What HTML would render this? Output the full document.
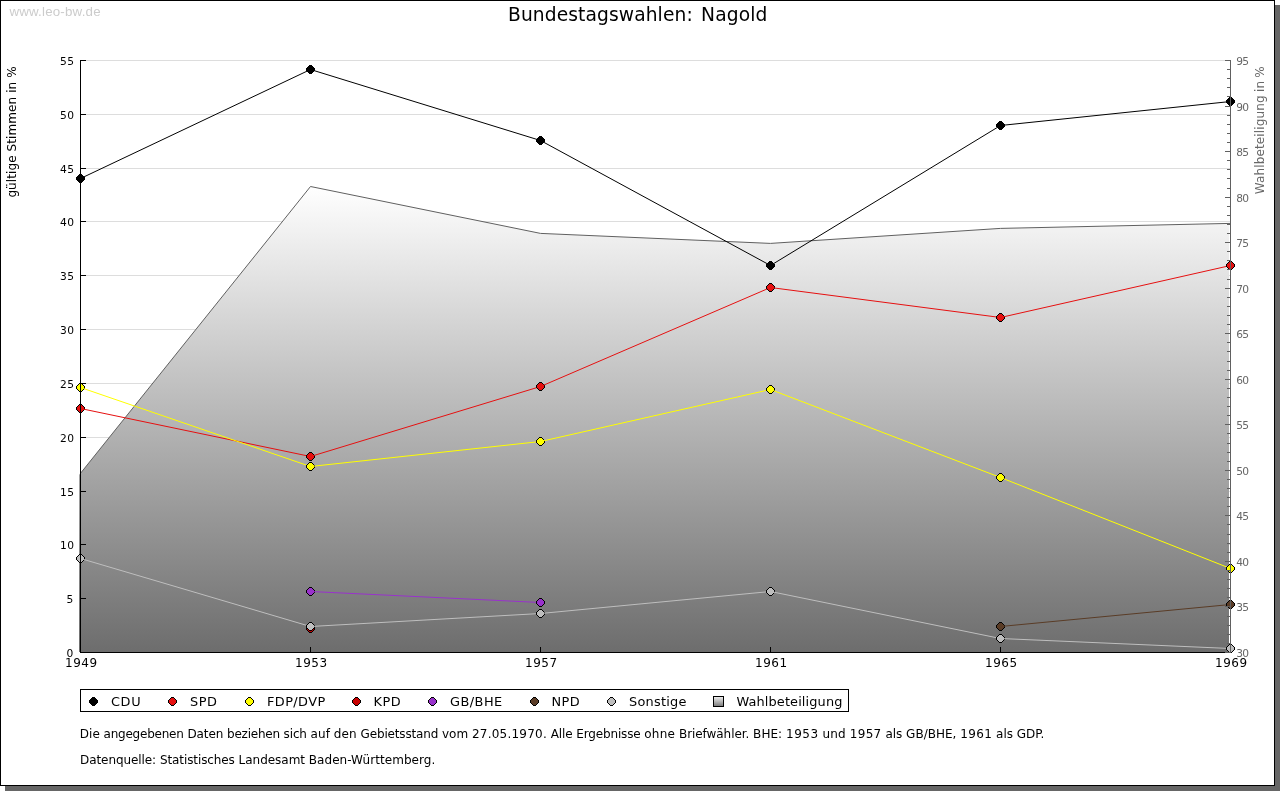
<!DOCTYPE html>
<html lang="de"><head><meta charset="utf-8"><title>Bundestagswahlen: Nagold</title>
<style>html,body{margin:0;padding:0;background:#fff;}body{width:1280px;height:791px;overflow:hidden;}svg{display:block;}text{font-family:"DejaVu Sans","Liberation Sans",sans-serif;}</style>
</head><body>
<svg width="1280" height="791" viewBox="0 0 1280 791">
<defs><linearGradient id="ag" gradientUnits="userSpaceOnUse" x1="0" y1="186" x2="0" y2="652"><stop offset="0" stop-color="#ffffff"/><stop offset="1" stop-color="#6d6d6d"/></linearGradient>
<linearGradient id="lg" x1="0" y1="0" x2="0" y2="1"><stop offset="0" stop-color="#f4f4f4"/><stop offset="1" stop-color="#777777"/></linearGradient></defs>
<rect x="0" y="0" width="1280" height="791" fill="#fff"/>
<g shape-rendering="crispEdges">
<rect x="1275" y="5" width="5" height="786" fill="#666"/>
<rect x="5" y="786" width="1275" height="5" fill="#666"/>
<rect x="0.5" y="0.5" width="1274" height="785" fill="#fff" stroke="#000" stroke-width="1"/>
</g>
<text x="9.4" y="16" font-size="13.33" textLength="91.2" style="font-family:'Liberation Sans',sans-serif" fill="#cccccc">www.leo-bw.de</text>
<text x="508" y="20.5" font-size="18.67" style="letter-spacing:0.1px;word-spacing:2.3px" fill="#000">Bundestagswahlen: Nagold</text>
<g shape-rendering="crispEdges" fill="#dddddd">
<rect x="81" y="652" width="1149" height="1"/>
<rect x="81" y="598" width="1149" height="1"/>
<rect x="81" y="544" width="1149" height="1"/>
<rect x="81" y="491" width="1149" height="1"/>
<rect x="81" y="437" width="1149" height="1"/>
<rect x="81" y="383" width="1149" height="1"/>
<rect x="81" y="329" width="1149" height="1"/>
<rect x="81" y="275" width="1149" height="1"/>
<rect x="81" y="221" width="1149" height="1"/>
<rect x="81" y="168" width="1149" height="1"/>
<rect x="81" y="114" width="1149" height="1"/>
<rect x="81" y="60" width="1149" height="1"/>
</g>
<polygon points="79,652 79,474.8 80.5,473.3 310.5,186.5 540.5,233.4 770.5,243.4 1000.5,228.4 1229,223.41 1229,652" fill="url(#ag)"/>
<polyline points="80.5,473.3 310.5,186.5 540.5,233.4 770.5,243.4 1000.5,228.4 1230.5,223.4" fill="none" stroke="#606060" stroke-width="1"/>
<g transform="translate(76,174)" shape-rendering="crispEdges"><path d="M3 1h3v1h-3zM2 2h5v1h-5zM1 3h7v3h-7zM2 6h5v1h-5zM3 7h3v1h-3z" fill="#000000"/><path d="M3 0h3v1h-3zM2 1h1v1h-1zM6 1h1v1h-1zM1 2h1v1h-1zM7 2h1v1h-1zM0 3h1v3h-1zM8 3h1v3h-1zM1 6h1v1h-1zM7 6h1v1h-1zM2 7h1v1h-1zM6 7h1v1h-1zM3 8h3v1h-3z" fill="#000"/></g>
<line x1="80.5" y1="178.5" x2="310.5" y2="69.5" stroke="#000000" stroke-width="1"/>
<g transform="translate(306,65)" shape-rendering="crispEdges"><path d="M3 1h3v1h-3zM2 2h5v1h-5zM1 3h7v3h-7zM2 6h5v1h-5zM3 7h3v1h-3z" fill="#000000"/><path d="M3 0h3v1h-3zM2 1h1v1h-1zM6 1h1v1h-1zM1 2h1v1h-1zM7 2h1v1h-1zM0 3h1v3h-1zM8 3h1v3h-1zM1 6h1v1h-1zM7 6h1v1h-1zM2 7h1v1h-1zM6 7h1v1h-1zM3 8h3v1h-3z" fill="#000"/></g>
<line x1="310.5" y1="69.5" x2="540.5" y2="140.5" stroke="#000000" stroke-width="1"/>
<g transform="translate(536,136)" shape-rendering="crispEdges"><path d="M3 1h3v1h-3zM2 2h5v1h-5zM1 3h7v3h-7zM2 6h5v1h-5zM3 7h3v1h-3z" fill="#000000"/><path d="M3 0h3v1h-3zM2 1h1v1h-1zM6 1h1v1h-1zM1 2h1v1h-1zM7 2h1v1h-1zM0 3h1v3h-1zM8 3h1v3h-1zM1 6h1v1h-1zM7 6h1v1h-1zM2 7h1v1h-1zM6 7h1v1h-1zM3 8h3v1h-3z" fill="#000"/></g>
<line x1="540.5" y1="140.5" x2="770.5" y2="265.5" stroke="#000000" stroke-width="1"/>
<g transform="translate(766,261)" shape-rendering="crispEdges"><path d="M3 1h3v1h-3zM2 2h5v1h-5zM1 3h7v3h-7zM2 6h5v1h-5zM3 7h3v1h-3z" fill="#000000"/><path d="M3 0h3v1h-3zM2 1h1v1h-1zM6 1h1v1h-1zM1 2h1v1h-1zM7 2h1v1h-1zM0 3h1v3h-1zM8 3h1v3h-1zM1 6h1v1h-1zM7 6h1v1h-1zM2 7h1v1h-1zM6 7h1v1h-1zM3 8h3v1h-3z" fill="#000"/></g>
<line x1="770.5" y1="265.5" x2="1000.5" y2="125.5" stroke="#000000" stroke-width="1"/>
<g transform="translate(996,121)" shape-rendering="crispEdges"><path d="M3 1h3v1h-3zM2 2h5v1h-5zM1 3h7v3h-7zM2 6h5v1h-5zM3 7h3v1h-3z" fill="#000000"/><path d="M3 0h3v1h-3zM2 1h1v1h-1zM6 1h1v1h-1zM1 2h1v1h-1zM7 2h1v1h-1zM0 3h1v3h-1zM8 3h1v3h-1zM1 6h1v1h-1zM7 6h1v1h-1zM2 7h1v1h-1zM6 7h1v1h-1zM3 8h3v1h-3z" fill="#000"/></g>
<line x1="1000.5" y1="125.5" x2="1230.5" y2="101.5" stroke="#000000" stroke-width="1"/>
<g transform="translate(1226,97)" shape-rendering="crispEdges"><path d="M3 1h3v1h-3zM2 2h5v1h-5zM1 3h7v3h-7zM2 6h5v1h-5zM3 7h3v1h-3z" fill="#000000"/><path d="M3 0h3v1h-3zM2 1h1v1h-1zM6 1h1v1h-1zM1 2h1v1h-1zM7 2h1v1h-1zM0 3h1v3h-1zM8 3h1v3h-1zM1 6h1v1h-1zM7 6h1v1h-1zM2 7h1v1h-1zM6 7h1v1h-1zM3 8h3v1h-3z" fill="#000"/></g>
<g transform="translate(76,404)" shape-rendering="crispEdges"><path d="M3 1h3v1h-3zM2 2h5v1h-5zM1 3h7v3h-7zM2 6h5v1h-5zM3 7h3v1h-3z" fill="#e61010"/><path d="M3 0h3v1h-3zM2 1h1v1h-1zM6 1h1v1h-1zM1 2h1v1h-1zM7 2h1v1h-1zM0 3h1v3h-1zM8 3h1v3h-1zM1 6h1v1h-1zM7 6h1v1h-1zM2 7h1v1h-1zM6 7h1v1h-1zM3 8h3v1h-3z" fill="#000"/></g>
<line x1="80.5" y1="408.5" x2="310.5" y2="456.5" stroke="#e61010" stroke-width="1"/>
<g transform="translate(306,452)" shape-rendering="crispEdges"><path d="M3 1h3v1h-3zM2 2h5v1h-5zM1 3h7v3h-7zM2 6h5v1h-5zM3 7h3v1h-3z" fill="#e61010"/><path d="M3 0h3v1h-3zM2 1h1v1h-1zM6 1h1v1h-1zM1 2h1v1h-1zM7 2h1v1h-1zM0 3h1v3h-1zM8 3h1v3h-1zM1 6h1v1h-1zM7 6h1v1h-1zM2 7h1v1h-1zM6 7h1v1h-1zM3 8h3v1h-3z" fill="#000"/></g>
<line x1="310.5" y1="456.5" x2="540.5" y2="386.5" stroke="#e61010" stroke-width="1"/>
<g transform="translate(536,382)" shape-rendering="crispEdges"><path d="M3 1h3v1h-3zM2 2h5v1h-5zM1 3h7v3h-7zM2 6h5v1h-5zM3 7h3v1h-3z" fill="#e61010"/><path d="M3 0h3v1h-3zM2 1h1v1h-1zM6 1h1v1h-1zM1 2h1v1h-1zM7 2h1v1h-1zM0 3h1v3h-1zM8 3h1v3h-1zM1 6h1v1h-1zM7 6h1v1h-1zM2 7h1v1h-1zM6 7h1v1h-1zM3 8h3v1h-3z" fill="#000"/></g>
<line x1="540.5" y1="386.5" x2="770.5" y2="287.5" stroke="#e61010" stroke-width="1"/>
<g transform="translate(766,283)" shape-rendering="crispEdges"><path d="M3 1h3v1h-3zM2 2h5v1h-5zM1 3h7v3h-7zM2 6h5v1h-5zM3 7h3v1h-3z" fill="#e61010"/><path d="M3 0h3v1h-3zM2 1h1v1h-1zM6 1h1v1h-1zM1 2h1v1h-1zM7 2h1v1h-1zM0 3h1v3h-1zM8 3h1v3h-1zM1 6h1v1h-1zM7 6h1v1h-1zM2 7h1v1h-1zM6 7h1v1h-1zM3 8h3v1h-3z" fill="#000"/></g>
<line x1="770.5" y1="287.5" x2="1000.5" y2="317.5" stroke="#e61010" stroke-width="1"/>
<g transform="translate(996,313)" shape-rendering="crispEdges"><path d="M3 1h3v1h-3zM2 2h5v1h-5zM1 3h7v3h-7zM2 6h5v1h-5zM3 7h3v1h-3z" fill="#e61010"/><path d="M3 0h3v1h-3zM2 1h1v1h-1zM6 1h1v1h-1zM1 2h1v1h-1zM7 2h1v1h-1zM0 3h1v3h-1zM8 3h1v3h-1zM1 6h1v1h-1zM7 6h1v1h-1zM2 7h1v1h-1zM6 7h1v1h-1zM3 8h3v1h-3z" fill="#000"/></g>
<line x1="1000.5" y1="317.5" x2="1230.5" y2="265.5" stroke="#e61010" stroke-width="1"/>
<g transform="translate(1226,261)" shape-rendering="crispEdges"><path d="M3 1h3v1h-3zM2 2h5v1h-5zM1 3h7v3h-7zM2 6h5v1h-5zM3 7h3v1h-3z" fill="#e61010"/><path d="M3 0h3v1h-3zM2 1h1v1h-1zM6 1h1v1h-1zM1 2h1v1h-1zM7 2h1v1h-1zM0 3h1v3h-1zM8 3h1v3h-1zM1 6h1v1h-1zM7 6h1v1h-1zM2 7h1v1h-1zM6 7h1v1h-1zM3 8h3v1h-3z" fill="#000"/></g>
<g transform="translate(76,383)" shape-rendering="crispEdges"><path d="M3 1h3v1h-3zM2 2h5v1h-5zM1 3h7v3h-7zM2 6h5v1h-5zM3 7h3v1h-3z" fill="#ffff00"/><path d="M3 0h3v1h-3zM2 1h1v1h-1zM6 1h1v1h-1zM1 2h1v1h-1zM7 2h1v1h-1zM0 3h1v3h-1zM8 3h1v3h-1zM1 6h1v1h-1zM7 6h1v1h-1zM2 7h1v1h-1zM6 7h1v1h-1zM3 8h3v1h-3z" fill="#000"/></g>
<line x1="80.5" y1="387.5" x2="310.5" y2="466.5" stroke="#ffff00" stroke-width="1"/>
<g transform="translate(306,462)" shape-rendering="crispEdges"><path d="M3 1h3v1h-3zM2 2h5v1h-5zM1 3h7v3h-7zM2 6h5v1h-5zM3 7h3v1h-3z" fill="#ffff00"/><path d="M3 0h3v1h-3zM2 1h1v1h-1zM6 1h1v1h-1zM1 2h1v1h-1zM7 2h1v1h-1zM0 3h1v3h-1zM8 3h1v3h-1zM1 6h1v1h-1zM7 6h1v1h-1zM2 7h1v1h-1zM6 7h1v1h-1zM3 8h3v1h-3z" fill="#000"/></g>
<line x1="310.5" y1="466.5" x2="540.5" y2="441.5" stroke="#ffff00" stroke-width="1"/>
<g transform="translate(536,437)" shape-rendering="crispEdges"><path d="M3 1h3v1h-3zM2 2h5v1h-5zM1 3h7v3h-7zM2 6h5v1h-5zM3 7h3v1h-3z" fill="#ffff00"/><path d="M3 0h3v1h-3zM2 1h1v1h-1zM6 1h1v1h-1zM1 2h1v1h-1zM7 2h1v1h-1zM0 3h1v3h-1zM8 3h1v3h-1zM1 6h1v1h-1zM7 6h1v1h-1zM2 7h1v1h-1zM6 7h1v1h-1zM3 8h3v1h-3z" fill="#000"/></g>
<line x1="540.5" y1="441.5" x2="770.5" y2="389.5" stroke="#ffff00" stroke-width="1"/>
<g transform="translate(766,385)" shape-rendering="crispEdges"><path d="M3 1h3v1h-3zM2 2h5v1h-5zM1 3h7v3h-7zM2 6h5v1h-5zM3 7h3v1h-3z" fill="#ffff00"/><path d="M3 0h3v1h-3zM2 1h1v1h-1zM6 1h1v1h-1zM1 2h1v1h-1zM7 2h1v1h-1zM0 3h1v3h-1zM8 3h1v3h-1zM1 6h1v1h-1zM7 6h1v1h-1zM2 7h1v1h-1zM6 7h1v1h-1zM3 8h3v1h-3z" fill="#000"/></g>
<line x1="770.5" y1="389.5" x2="1000.5" y2="477.5" stroke="#ffff00" stroke-width="1"/>
<g transform="translate(996,473)" shape-rendering="crispEdges"><path d="M3 1h3v1h-3zM2 2h5v1h-5zM1 3h7v3h-7zM2 6h5v1h-5zM3 7h3v1h-3z" fill="#ffff00"/><path d="M3 0h3v1h-3zM2 1h1v1h-1zM6 1h1v1h-1zM1 2h1v1h-1zM7 2h1v1h-1zM0 3h1v3h-1zM8 3h1v3h-1zM1 6h1v1h-1zM7 6h1v1h-1zM2 7h1v1h-1zM6 7h1v1h-1zM3 8h3v1h-3z" fill="#000"/></g>
<line x1="1000.5" y1="477.5" x2="1230.5" y2="568.5" stroke="#ffff00" stroke-width="1"/>
<g transform="translate(1226,564)" shape-rendering="crispEdges"><path d="M3 1h3v1h-3zM2 2h5v1h-5zM1 3h7v3h-7zM2 6h5v1h-5zM3 7h3v1h-3z" fill="#ffff00"/><path d="M3 0h3v1h-3zM2 1h1v1h-1zM6 1h1v1h-1zM1 2h1v1h-1zM7 2h1v1h-1zM0 3h1v3h-1zM8 3h1v3h-1zM1 6h1v1h-1zM7 6h1v1h-1zM2 7h1v1h-1zM6 7h1v1h-1zM3 8h3v1h-3z" fill="#000"/></g>
<g transform="translate(306,624)" shape-rendering="crispEdges"><path d="M3 1h3v1h-3zM2 2h5v1h-5zM1 3h7v3h-7zM2 6h5v1h-5zM3 7h3v1h-3z" fill="#c80000"/><path d="M3 0h3v1h-3zM2 1h1v1h-1zM6 1h1v1h-1zM1 2h1v1h-1zM7 2h1v1h-1zM0 3h1v3h-1zM8 3h1v3h-1zM1 6h1v1h-1zM7 6h1v1h-1zM2 7h1v1h-1zM6 7h1v1h-1zM3 8h3v1h-3z" fill="#000"/></g>
<g transform="translate(306,587)" shape-rendering="crispEdges"><path d="M3 1h3v1h-3zM2 2h5v1h-5zM1 3h7v3h-7zM2 6h5v1h-5zM3 7h3v1h-3z" fill="#9932cc"/><path d="M3 0h3v1h-3zM2 1h1v1h-1zM6 1h1v1h-1zM1 2h1v1h-1zM7 2h1v1h-1zM0 3h1v3h-1zM8 3h1v3h-1zM1 6h1v1h-1zM7 6h1v1h-1zM2 7h1v1h-1zM6 7h1v1h-1zM3 8h3v1h-3z" fill="#000"/></g>
<line x1="310.5" y1="591.5" x2="540.5" y2="602.5" stroke="#9932cc" stroke-width="1"/>
<g transform="translate(536,598)" shape-rendering="crispEdges"><path d="M3 1h3v1h-3zM2 2h5v1h-5zM1 3h7v3h-7zM2 6h5v1h-5zM3 7h3v1h-3z" fill="#9932cc"/><path d="M3 0h3v1h-3zM2 1h1v1h-1zM6 1h1v1h-1zM1 2h1v1h-1zM7 2h1v1h-1zM0 3h1v3h-1zM8 3h1v3h-1zM1 6h1v1h-1zM7 6h1v1h-1zM2 7h1v1h-1zM6 7h1v1h-1zM3 8h3v1h-3z" fill="#000"/></g>
<g transform="translate(996,622)" shape-rendering="crispEdges"><path d="M3 1h3v1h-3zM2 2h5v1h-5zM1 3h7v3h-7zM2 6h5v1h-5zM3 7h3v1h-3z" fill="#5a3c26"/><path d="M3 0h3v1h-3zM2 1h1v1h-1zM6 1h1v1h-1zM1 2h1v1h-1zM7 2h1v1h-1zM0 3h1v3h-1zM8 3h1v3h-1zM1 6h1v1h-1zM7 6h1v1h-1zM2 7h1v1h-1zM6 7h1v1h-1zM3 8h3v1h-3z" fill="#000"/></g>
<line x1="1000.5" y1="626.5" x2="1230.5" y2="604.5" stroke="#5a3c26" stroke-width="1"/>
<g transform="translate(1226,600)" shape-rendering="crispEdges"><path d="M3 1h3v1h-3zM2 2h5v1h-5zM1 3h7v3h-7zM2 6h5v1h-5zM3 7h3v1h-3z" fill="#5a3c26"/><path d="M3 0h3v1h-3zM2 1h1v1h-1zM6 1h1v1h-1zM1 2h1v1h-1zM7 2h1v1h-1zM0 3h1v3h-1zM8 3h1v3h-1zM1 6h1v1h-1zM7 6h1v1h-1zM2 7h1v1h-1zM6 7h1v1h-1zM3 8h3v1h-3z" fill="#000"/></g>
<g transform="translate(76,554)" shape-rendering="crispEdges"><path d="M3 1h3v1h-3zM2 2h5v1h-5zM1 3h7v3h-7zM2 6h5v1h-5zM3 7h3v1h-3z" fill="#bebebe"/><path d="M3 0h3v1h-3zM2 1h1v1h-1zM6 1h1v1h-1zM1 2h1v1h-1zM7 2h1v1h-1zM0 3h1v3h-1zM8 3h1v3h-1zM1 6h1v1h-1zM7 6h1v1h-1zM2 7h1v1h-1zM6 7h1v1h-1zM3 8h3v1h-3z" fill="#000"/></g>
<line x1="80.5" y1="558.5" x2="310.5" y2="626.5" stroke="#bebebe" stroke-width="1"/>
<g transform="translate(306,622)" shape-rendering="crispEdges"><path d="M3 1h3v1h-3zM2 2h5v1h-5zM1 3h7v3h-7zM2 6h5v1h-5zM3 7h3v1h-3z" fill="#bebebe"/><path d="M3 0h3v1h-3zM2 1h1v1h-1zM6 1h1v1h-1zM1 2h1v1h-1zM7 2h1v1h-1zM0 3h1v3h-1zM8 3h1v3h-1zM1 6h1v1h-1zM7 6h1v1h-1zM2 7h1v1h-1zM6 7h1v1h-1zM3 8h3v1h-3z" fill="#000"/></g>
<line x1="310.5" y1="626.5" x2="540.5" y2="613.5" stroke="#bebebe" stroke-width="1"/>
<g transform="translate(536,609)" shape-rendering="crispEdges"><path d="M3 1h3v1h-3zM2 2h5v1h-5zM1 3h7v3h-7zM2 6h5v1h-5zM3 7h3v1h-3z" fill="#bebebe"/><path d="M3 0h3v1h-3zM2 1h1v1h-1zM6 1h1v1h-1zM1 2h1v1h-1zM7 2h1v1h-1zM0 3h1v3h-1zM8 3h1v3h-1zM1 6h1v1h-1zM7 6h1v1h-1zM2 7h1v1h-1zM6 7h1v1h-1zM3 8h3v1h-3z" fill="#000"/></g>
<line x1="540.5" y1="613.5" x2="770.5" y2="591.5" stroke="#bebebe" stroke-width="1"/>
<g transform="translate(766,587)" shape-rendering="crispEdges"><path d="M3 1h3v1h-3zM2 2h5v1h-5zM1 3h7v3h-7zM2 6h5v1h-5zM3 7h3v1h-3z" fill="#bebebe"/><path d="M3 0h3v1h-3zM2 1h1v1h-1zM6 1h1v1h-1zM1 2h1v1h-1zM7 2h1v1h-1zM0 3h1v3h-1zM8 3h1v3h-1zM1 6h1v1h-1zM7 6h1v1h-1zM2 7h1v1h-1zM6 7h1v1h-1zM3 8h3v1h-3z" fill="#000"/></g>
<line x1="770.5" y1="591.5" x2="1000.5" y2="638.5" stroke="#bebebe" stroke-width="1"/>
<g transform="translate(996,634)" shape-rendering="crispEdges"><path d="M3 1h3v1h-3zM2 2h5v1h-5zM1 3h7v3h-7zM2 6h5v1h-5zM3 7h3v1h-3z" fill="#bebebe"/><path d="M3 0h3v1h-3zM2 1h1v1h-1zM6 1h1v1h-1zM1 2h1v1h-1zM7 2h1v1h-1zM0 3h1v3h-1zM8 3h1v3h-1zM1 6h1v1h-1zM7 6h1v1h-1zM2 7h1v1h-1zM6 7h1v1h-1zM3 8h3v1h-3z" fill="#000"/></g>
<line x1="1000.5" y1="638.5" x2="1230.5" y2="648.5" stroke="#bebebe" stroke-width="1"/>
<g transform="translate(1226,644)" shape-rendering="crispEdges"><path d="M3 1h3v1h-3zM2 2h5v1h-5zM1 3h7v3h-7zM2 6h5v1h-5zM3 7h3v1h-3z" fill="#bebebe"/><path d="M3 0h3v1h-3zM2 1h1v1h-1zM6 1h1v1h-1zM1 2h1v1h-1zM7 2h1v1h-1zM0 3h1v3h-1zM8 3h1v3h-1zM1 6h1v1h-1zM7 6h1v1h-1zM2 7h1v1h-1zM6 7h1v1h-1zM3 8h3v1h-3z" fill="#000"/></g>
<g shape-rendering="crispEdges">
<rect x="80" y="60" width="1" height="593" fill="#000"/>
<rect x="80" y="652" width="1150" height="1" fill="#000"/>
<rect x="81" y="652" width="5" height="1" fill="#000"/>
<rect x="81" y="598" width="5" height="1" fill="#000"/>
<rect x="81" y="544" width="5" height="1" fill="#000"/>
<rect x="81" y="491" width="5" height="1" fill="#000"/>
<rect x="81" y="437" width="5" height="1" fill="#000"/>
<rect x="81" y="383" width="5" height="1" fill="#000"/>
<rect x="81" y="329" width="5" height="1" fill="#000"/>
<rect x="81" y="275" width="5" height="1" fill="#000"/>
<rect x="81" y="221" width="5" height="1" fill="#000"/>
<rect x="81" y="168" width="5" height="1" fill="#000"/>
<rect x="81" y="114" width="5" height="1" fill="#000"/>
<rect x="81" y="60" width="5" height="1" fill="#000"/>
<rect x="310" y="647" width="1" height="5" fill="#000"/>
<rect x="540" y="647" width="1" height="5" fill="#000"/>
<rect x="770" y="647" width="1" height="5" fill="#000"/>
<rect x="1000" y="647" width="1" height="5" fill="#000"/>
<rect x="1230" y="60" width="1" height="593" fill="#606060"/>
<rect x="1225" y="652" width="5" height="1" fill="#606060"/>
<rect x="1227" y="643" width="3" height="1" fill="#606060"/>
<rect x="1227" y="634" width="3" height="1" fill="#606060"/>
<rect x="1227" y="625" width="3" height="1" fill="#606060"/>
<rect x="1227" y="616" width="3" height="1" fill="#606060"/>
<rect x="1225" y="606" width="5" height="1" fill="#606060"/>
<rect x="1227" y="597" width="3" height="1" fill="#606060"/>
<rect x="1227" y="588" width="3" height="1" fill="#606060"/>
<rect x="1227" y="579" width="3" height="1" fill="#606060"/>
<rect x="1227" y="570" width="3" height="1" fill="#606060"/>
<rect x="1225" y="561" width="5" height="1" fill="#606060"/>
<rect x="1227" y="552" width="3" height="1" fill="#606060"/>
<rect x="1227" y="543" width="3" height="1" fill="#606060"/>
<rect x="1227" y="534" width="3" height="1" fill="#606060"/>
<rect x="1227" y="524" width="3" height="1" fill="#606060"/>
<rect x="1225" y="515" width="5" height="1" fill="#606060"/>
<rect x="1227" y="506" width="3" height="1" fill="#606060"/>
<rect x="1227" y="497" width="3" height="1" fill="#606060"/>
<rect x="1227" y="488" width="3" height="1" fill="#606060"/>
<rect x="1227" y="479" width="3" height="1" fill="#606060"/>
<rect x="1225" y="470" width="5" height="1" fill="#606060"/>
<rect x="1227" y="461" width="3" height="1" fill="#606060"/>
<rect x="1227" y="452" width="3" height="1" fill="#606060"/>
<rect x="1227" y="443" width="3" height="1" fill="#606060"/>
<rect x="1227" y="433" width="3" height="1" fill="#606060"/>
<rect x="1225" y="424" width="5" height="1" fill="#606060"/>
<rect x="1227" y="415" width="3" height="1" fill="#606060"/>
<rect x="1227" y="406" width="3" height="1" fill="#606060"/>
<rect x="1227" y="397" width="3" height="1" fill="#606060"/>
<rect x="1227" y="388" width="3" height="1" fill="#606060"/>
<rect x="1225" y="379" width="5" height="1" fill="#606060"/>
<rect x="1227" y="370" width="3" height="1" fill="#606060"/>
<rect x="1227" y="361" width="3" height="1" fill="#606060"/>
<rect x="1227" y="351" width="3" height="1" fill="#606060"/>
<rect x="1227" y="342" width="3" height="1" fill="#606060"/>
<rect x="1225" y="333" width="5" height="1" fill="#606060"/>
<rect x="1227" y="324" width="3" height="1" fill="#606060"/>
<rect x="1227" y="315" width="3" height="1" fill="#606060"/>
<rect x="1227" y="306" width="3" height="1" fill="#606060"/>
<rect x="1227" y="297" width="3" height="1" fill="#606060"/>
<rect x="1225" y="288" width="5" height="1" fill="#606060"/>
<rect x="1227" y="279" width="3" height="1" fill="#606060"/>
<rect x="1227" y="269" width="3" height="1" fill="#606060"/>
<rect x="1227" y="260" width="3" height="1" fill="#606060"/>
<rect x="1227" y="251" width="3" height="1" fill="#606060"/>
<rect x="1225" y="242" width="5" height="1" fill="#606060"/>
<rect x="1227" y="233" width="3" height="1" fill="#606060"/>
<rect x="1227" y="224" width="3" height="1" fill="#606060"/>
<rect x="1227" y="215" width="3" height="1" fill="#606060"/>
<rect x="1227" y="206" width="3" height="1" fill="#606060"/>
<rect x="1225" y="197" width="5" height="1" fill="#606060"/>
<rect x="1227" y="188" width="3" height="1" fill="#606060"/>
<rect x="1227" y="178" width="3" height="1" fill="#606060"/>
<rect x="1227" y="169" width="3" height="1" fill="#606060"/>
<rect x="1227" y="160" width="3" height="1" fill="#606060"/>
<rect x="1225" y="151" width="5" height="1" fill="#606060"/>
<rect x="1227" y="142" width="3" height="1" fill="#606060"/>
<rect x="1227" y="133" width="3" height="1" fill="#606060"/>
<rect x="1227" y="124" width="3" height="1" fill="#606060"/>
<rect x="1227" y="115" width="3" height="1" fill="#606060"/>
<rect x="1225" y="106" width="5" height="1" fill="#606060"/>
<rect x="1227" y="96" width="3" height="1" fill="#606060"/>
<rect x="1227" y="87" width="3" height="1" fill="#606060"/>
<rect x="1227" y="78" width="3" height="1" fill="#606060"/>
<rect x="1227" y="69" width="3" height="1" fill="#606060"/>
<rect x="1225" y="60" width="5" height="1" fill="#606060"/>
</g>
<g font-size="10.67" text-anchor="end" fill="#000">
<text x="73.2" y="657">0</text>
<text x="73.2" y="603">5</text>
<text x="74.0" y="549" textLength="14">10</text>
<text x="74.0" y="496" textLength="14">15</text>
<text x="74.0" y="442" textLength="14">20</text>
<text x="74.0" y="388" textLength="14">25</text>
<text x="74.0" y="334" textLength="14">30</text>
<text x="74.0" y="280" textLength="14">35</text>
<text x="74.0" y="226" textLength="14">40</text>
<text x="74.0" y="173" textLength="14">45</text>
<text x="74.0" y="119" textLength="14">50</text>
<text x="74.0" y="65" textLength="14">55</text>
</g>
<g font-size="10.67" fill="#666666">
<text x="1236.3" y="657" textLength="12.7">30</text>
<text x="1236.3" y="611" textLength="12.7">35</text>
<text x="1236.3" y="566" textLength="12.7">40</text>
<text x="1236.3" y="520" textLength="12.7">45</text>
<text x="1236.3" y="475" textLength="12.7">50</text>
<text x="1236.3" y="429" textLength="12.7">55</text>
<text x="1236.3" y="384" textLength="12.7">60</text>
<text x="1236.3" y="338" textLength="12.7">65</text>
<text x="1236.3" y="293" textLength="12.7">70</text>
<text x="1236.3" y="247" textLength="12.7">75</text>
<text x="1236.3" y="202" textLength="12.7">80</text>
<text x="1236.3" y="156" textLength="12.7">85</text>
<text x="1236.3" y="111" textLength="12.7">90</text>
<text x="1236.3" y="65" textLength="12.7">95</text>
</g>
<g font-size="12" text-anchor="middle" fill="#000">
<text x="81.1" y="667" textLength="32">1949</text>
<text x="311.1" y="667" textLength="32">1953</text>
<text x="541.1" y="667" textLength="32">1957</text>
<text x="771.1" y="667" textLength="32">1961</text>
<text x="1001.1" y="667" textLength="32">1965</text>
<text x="1231.1" y="667" textLength="32">1969</text>
</g>
<text transform="translate(15.6,197.6) rotate(-90)" font-size="12" textLength="131.2" fill="#000">gültige Stimmen in %</text>
<text transform="translate(1264,194.2) rotate(-90)" font-size="12" style="letter-spacing:0.13px;word-spacing:-0.7px" fill="#686868">Wahlbeteiligung in %</text>
<rect x="80.5" y="689.5" width="768" height="22" fill="#fff" stroke="#000" stroke-width="1" shape-rendering="crispEdges"/>
<g transform="translate(89,697)" shape-rendering="crispEdges"><path d="M3 1h3v1h-3zM2 2h5v1h-5zM1 3h7v3h-7zM2 6h5v1h-5zM3 7h3v1h-3z" fill="#000000"/><path d="M3 0h3v1h-3zM2 1h1v1h-1zM6 1h1v1h-1zM1 2h1v1h-1zM7 2h1v1h-1zM0 3h1v3h-1zM8 3h1v3h-1zM1 6h1v1h-1zM7 6h1v1h-1zM2 7h1v1h-1zM6 7h1v1h-1zM3 8h3v1h-3z" fill="#000"/></g>
<text x="111" y="706" font-size="12.9" textLength="29.6" fill="#000">CDU</text>
<g transform="translate(168,697)" shape-rendering="crispEdges"><path d="M3 1h3v1h-3zM2 2h5v1h-5zM1 3h7v3h-7zM2 6h5v1h-5zM3 7h3v1h-3z" fill="#e61010"/><path d="M3 0h3v1h-3zM2 1h1v1h-1zM6 1h1v1h-1zM1 2h1v1h-1zM7 2h1v1h-1zM0 3h1v3h-1zM8 3h1v3h-1zM1 6h1v1h-1zM7 6h1v1h-1zM2 7h1v1h-1zM6 7h1v1h-1zM3 8h3v1h-3z" fill="#000"/></g>
<text x="190" y="706" font-size="12.9" textLength="27.0" fill="#000">SPD</text>
<g transform="translate(245,697)" shape-rendering="crispEdges"><path d="M3 1h3v1h-3zM2 2h5v1h-5zM1 3h7v3h-7zM2 6h5v1h-5zM3 7h3v1h-3z" fill="#ffff00"/><path d="M3 0h3v1h-3zM2 1h1v1h-1zM6 1h1v1h-1zM1 2h1v1h-1zM7 2h1v1h-1zM0 3h1v3h-1zM8 3h1v3h-1zM1 6h1v1h-1zM7 6h1v1h-1zM2 7h1v1h-1zM6 7h1v1h-1zM3 8h3v1h-3z" fill="#000"/></g>
<text x="267" y="706" font-size="12.9" textLength="58.2" fill="#000">FDP/DVP</text>
<g transform="translate(352,697)" shape-rendering="crispEdges"><path d="M3 1h3v1h-3zM2 2h5v1h-5zM1 3h7v3h-7zM2 6h5v1h-5zM3 7h3v1h-3z" fill="#c80000"/><path d="M3 0h3v1h-3zM2 1h1v1h-1zM6 1h1v1h-1zM1 2h1v1h-1zM7 2h1v1h-1zM0 3h1v3h-1zM8 3h1v3h-1zM1 6h1v1h-1zM7 6h1v1h-1zM2 7h1v1h-1zM6 7h1v1h-1zM3 8h3v1h-3z" fill="#000"/></g>
<text x="373.6" y="706" font-size="12.9" textLength="27.0" fill="#000">KPD</text>
<g transform="translate(428,697)" shape-rendering="crispEdges"><path d="M3 1h3v1h-3zM2 2h5v1h-5zM1 3h7v3h-7zM2 6h5v1h-5zM3 7h3v1h-3z" fill="#9932cc"/><path d="M3 0h3v1h-3zM2 1h1v1h-1zM6 1h1v1h-1zM1 2h1v1h-1zM7 2h1v1h-1zM0 3h1v3h-1zM8 3h1v3h-1zM1 6h1v1h-1zM7 6h1v1h-1zM2 7h1v1h-1zM6 7h1v1h-1zM3 8h3v1h-3z" fill="#000"/></g>
<text x="450" y="706" font-size="12.9" textLength="52.2" fill="#000">GB/BHE</text>
<g transform="translate(530,697)" shape-rendering="crispEdges"><path d="M3 1h3v1h-3zM2 2h5v1h-5zM1 3h7v3h-7zM2 6h5v1h-5zM3 7h3v1h-3z" fill="#5a3c26"/><path d="M3 0h3v1h-3zM2 1h1v1h-1zM6 1h1v1h-1zM1 2h1v1h-1zM7 2h1v1h-1zM0 3h1v3h-1zM8 3h1v3h-1zM1 6h1v1h-1zM7 6h1v1h-1zM2 7h1v1h-1zM6 7h1v1h-1zM3 8h3v1h-3z" fill="#000"/></g>
<text x="551.5" y="706" font-size="12.9" textLength="28.3" fill="#000">NPD</text>
<g transform="translate(607,697)" shape-rendering="crispEdges"><path d="M3 1h3v1h-3zM2 2h5v1h-5zM1 3h7v3h-7zM2 6h5v1h-5zM3 7h3v1h-3z" fill="#bebebe"/><path d="M3 0h3v1h-3zM2 1h1v1h-1zM6 1h1v1h-1zM1 2h1v1h-1zM7 2h1v1h-1zM0 3h1v3h-1zM8 3h1v3h-1zM1 6h1v1h-1zM7 6h1v1h-1zM2 7h1v1h-1zM6 7h1v1h-1zM3 8h3v1h-3z" fill="#000"/></g>
<text x="629" y="706" font-size="12.9" textLength="57.4" fill="#000">Sonstige</text>
<rect x="713.5" y="696.5" width="10" height="10" fill="url(#lg)" stroke="#000" stroke-width="1" shape-rendering="crispEdges"/>
<text x="736.4" y="706" font-size="12.9" textLength="106" fill="#000">Wahlbeteiligung</text>
<text y="738" font-size="12" fill="#000" xml:space="preserve"><tspan x="79.8" textLength="23.8">Die </tspan><tspan x="103.6" textLength="83.8">angegebenen </tspan><tspan x="187.4" textLength="39.7">Daten </tspan><tspan x="227.1" textLength="56.5">beziehen </tspan><tspan x="283.6" textLength="27.0">sich </tspan><tspan x="310.6" textLength="23.2">auf </tspan><tspan x="333.8" textLength="26.8">den </tspan><tspan x="360.6" textLength="81.4">Gebietsstand </tspan><tspan x="442.0" textLength="30.0">vom </tspan><tspan x="472.0" textLength="78.8">27.05.1970. </tspan><tspan x="550.8" textLength="25.5">Alle </tspan><tspan x="576.3" textLength="68.0">Ergebnisse </tspan><tspan x="644.3" textLength="34.7">ohne </tspan><tspan x="679.0" textLength="74.1">Briefwähler. </tspan><tspan x="753.1" textLength="32.9">BHE: </tspan><tspan x="786.0" textLength="36.5">1953 </tspan><tspan x="822.5" textLength="27.2">und </tspan><tspan x="849.7" textLength="35.7">1957 </tspan><tspan x="885.4" textLength="20.7">als </tspan><tspan x="906.1" textLength="54.1">GB/BHE, </tspan><tspan x="960.2" textLength="35.9">1961 </tspan><tspan x="996.1" textLength="20.6">als </tspan><tspan x="1016.7" textLength="27.7">GDP.</tspan></text>
<text y="763.5" font-size="12" fill="#000" xml:space="preserve"><tspan x="80" textLength="79.9">Datenquelle: </tspan><tspan x="159.9" textLength="78.7">Statistisches </tspan><tspan x="238.6" textLength="70.2">Landesamt </tspan><tspan x="308.8" textLength="126.5">Baden-Württemberg.</tspan></text>
</svg></body></html>
